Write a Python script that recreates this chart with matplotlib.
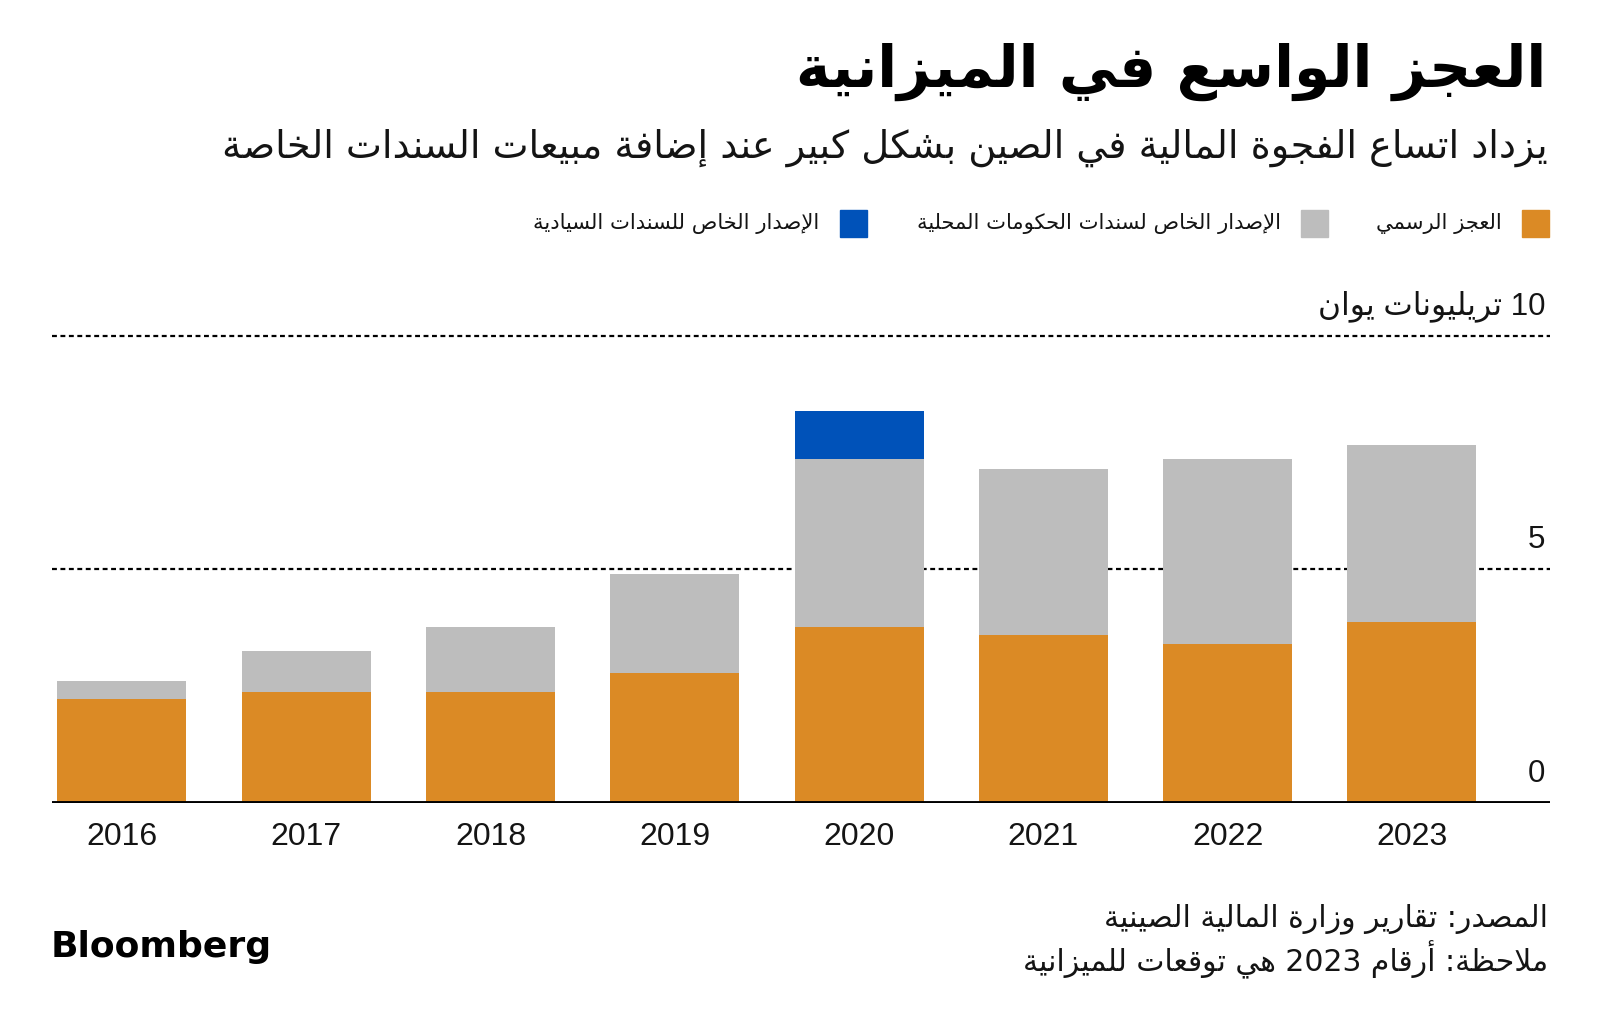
import re

import matplotlib
matplotlib.use("Agg")
import matplotlib.pyplot as plt
import numpy as np
from matplotlib.patches import Rectangle
from matplotlib.transforms import blended_transform_factory

# data (trillion yuan)
years = ["2016", "2017", "2018", "2019", "2020", "2021", "2022", "2023"]
official_deficit = [2.22, 2.38, 2.38, 2.78, 3.76, 3.59, 3.40, 3.87]
local_special_bonds = [0.39, 0.87, 1.39, 2.12, 3.59, 3.55, 3.97, 3.79]
sovereign_special_bonds = [0, 0, 0, 0, 1.04, 0, 0, 0]

y_ticks = [0, 5, 10]
y_tick_labels = ["0", "5", "10 تريليونات يوان"]

title = "العجز الواسع في الميزانية"
subtitle = "يزداد اتساع الفجوة المالية في الصين بشكل كبير عند إضافة مبيعات السندات الخاصة"
legend_labels = ["العجز الرسمي",
                 "الإصدار الخاص لسندات الحكومات المحلية",
                 "الإصدار الخاص للسندات السيادية"]
source = "المصدر: تقارير وزارة المالية الصينية"
note = "ملاحظة: أرقام 2023 هي توقعات للميزانية"

ORANGE = "#db8a25"
GRAY = "#bdbdbd"
BLUE = "#0052b9"
INK = "#141414"

# --- tiny arabic shaper: matplotlib has no text shaping, so map letters to
# their presentation forms and lay the string out right to left
_right_only = set("آأؤإاةدذرزوى")
_forms = {}
_cp = 0xFE80
for _ch in "ءآأؤإئابةتثجحخدذرزسشصضطظعغفقكلمنهوىي":
    _n = 1 if _ch == "ء" else (2 if _ch in _right_only else 4)
    _forms[_ch] = [chr(_cp + i) for i in range(_n)]  # isol, final, init, medial
    _cp += _n
_lam_alef = {"آ": 0xFEF5, "أ": 0xFEF7, "إ": 0xFEF9, "ا": 0xFEFB}


def _joins_forward(ch):
    return ch in _forms and len(_forms[ch]) == 4


def _joins_back(ch):
    return ch in _forms and ch != "ء"


def shape(s):
    out = []
    i = 0
    while i < len(s):
        ch = s[i]
        prev = s[i - 1] if i > 0 else ""
        nxt = s[i + 1] if i + 1 < len(s) else ""
        if ch not in _forms:
            out.append(ch)
            i += 1
            continue
        back = _joins_forward(prev) and _joins_back(ch)
        if ch == "ل" and nxt in _lam_alef:
            out.append(chr(_lam_alef[nxt] + (1 if back else 0)))
            i += 2
            continue
        fwd = _joins_forward(ch) and _joins_back(nxt)
        f = _forms[ch]
        if back and fwd:
            out.append(f[3])
        elif back:
            out.append(f[1])
        elif fwd:
            out.append(f[2])
        else:
            out.append(f[0])
        i += 1
    return "".join(out)


def ar(s):
    parts = re.findall(r"[0-9]+|[^0-9]+", shape(s))
    return "".join(p if p[0].isdigit() else p[::-1] for p in reversed(parts))


plt.rcParams["font.family"] = ["DejaVu Sans"]

W, H = 1600, 1026
fig = plt.figure(figsize=(W / 100, H / 100), dpi=100)


def fx(px):
    return px / W


def fy(py):
    return 1 - py / H


ax = fig.add_axes([fx(52), fy(803), fx(1550) - fx(52), fy(333.3) - fy(803)])

x = np.arange(len(years))
official = np.array(official_deficit)
local = np.array(local_special_bonds)
sovereign = np.array(sovereign_special_bonds)

ax.bar(x, official, width=0.7, color=ORANGE, zorder=2)
ax.bar(x, local, width=0.7, bottom=official, color=GRAY, zorder=2)
ax.bar(x, sovereign, width=0.7, bottom=official + local, color=BLUE, zorder=2)

ax.set_xlim(-0.379, 7.749)
ax.set_ylim(0, 10.05)

for v in y_ticks[1:]:
    ax.axhline(v, color="black", lw=1.6, ls=(0, (2.2, 1.6)), zorder=1)
ax.axhline(0, color="black", lw=2.8, zorder=3)

for s in ax.spines.values():
    s.set_visible(False)
ax.set_yticks([])
ax.set_xticks(x, years)
ax.tick_params(axis="x", length=0, pad=14, labelsize=23, labelcolor=INK)
for lbl in ax.get_xticklabels():
    lbl.set_family("Liberation Sans")

trans = blended_transform_factory(ax.transAxes, ax.transData)
for v, lbl in zip(y_ticks, y_tick_labels):
    ax.text(0.9967, v + 0.45, ar(lbl), transform=trans, ha="right",
            va="baseline", fontsize=22.5, color=INK,
            family=["Liberation Sans", "DejaVu Sans"])

# titles
fig.text(fx(1546), fy(72), ar(title), ha="right", va="center",
         fontsize=42, weight="bold", color="black")
fig.text(fx(1548), fy(148), ar(subtitle), ha="right", va="center",
         fontsize=27.5, color=INK)

# legend, laid out right to left
swatches = [(1522, ORANGE, 1502), (1301, GRAY, 1281), (840, BLUE, 819)]
for (sx, col, tx), lbl in zip(swatches, legend_labels):
    fig.patches.append(Rectangle((fx(sx), fy(237)), fx(27), 27 / H,
                                 transform=fig.transFigure, color=col))
    fig.text(fx(tx), fy(223), ar(lbl), ha="right", va="center",
             fontsize=15.2, color=INK)

# footer
fig.text(fx(1548), fy(919), ar(source), ha="right", va="center",
         fontsize=21.5, color=INK)
fig.text(fx(1548), fy(960), ar(note), ha="right", va="center",
         fontsize=21.5, color=INK)
fig.text(fx(51), fy(947), "Bloomberg", ha="left", va="center",
         fontsize=26, weight="heavy", color="black")

fig.savefig("out.png", dpi=100)
